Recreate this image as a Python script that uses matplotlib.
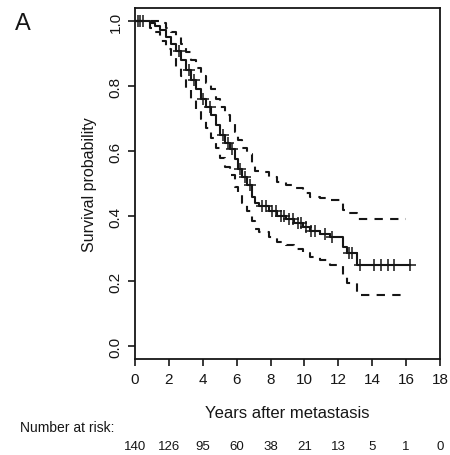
import numpy as np
import matplotlib.pyplot as plt
from matplotlib import transforms

plt.rcParams['font.family'] = ['Liberation Sans', 'DejaVu Sans']

# Kaplan-Meier estimate (step times, survival, 95% CI)
km_time = [0.0, 0.9, 1.2, 1.5, 1.8, 2.1, 2.4, 2.7, 3.0, 3.3, 3.6, 3.9, 4.2, 4.5,
           4.8, 5.0, 5.3, 5.6, 5.9, 6.1, 6.3, 6.6, 6.9, 7.1, 7.3, 7.9, 8.4, 8.9,
           9.4, 9.9, 10.3, 10.9, 11.5, 12.3, 12.5, 13.1]
km_surv = [1.0, 0.993, 0.986, 0.971, 0.95, 0.929, 0.907, 0.879, 0.85, 0.82, 0.79,
           0.76, 0.735, 0.71, 0.68, 0.65, 0.625, 0.605, 0.575, 0.545, 0.52, 0.495,
           0.46, 0.44, 0.43, 0.415, 0.40, 0.39, 0.38, 0.365, 0.355, 0.345, 0.335,
           0.305, 0.285, 0.249]
km_upper = [1.0, 1.0, 1.0, 0.995, 0.98, 0.965, 0.95, 0.93, 0.905, 0.88, 0.855,
            0.83, 0.81, 0.79, 0.76, 0.735, 0.71, 0.69, 0.66, 0.635, 0.61, 0.59,
            0.56, 0.54, 0.535, 0.52, 0.505, 0.495, 0.485, 0.47, 0.46, 0.455, 0.45,
            0.42, 0.41, 0.39]
km_lower = [1.0, 0.98, 0.965, 0.94, 0.915, 0.89, 0.86, 0.83, 0.795, 0.76, 0.73,
            0.70, 0.67, 0.64, 0.61, 0.58, 0.55, 0.525, 0.49, 0.465, 0.44, 0.415,
            0.385, 0.36, 0.35, 0.335, 0.32, 0.31, 0.30, 0.285, 0.275, 0.265, 0.25,
            0.215, 0.195, 0.157]
last_time = 16.2
ci_end = 16.0

censor_times = [0.15, 0.3, 0.45, 2.6, 3.2, 3.5, 4.0, 4.4, 5.2, 5.5, 5.7, 6.2, 6.5,
                6.8, 7.5, 7.7, 8.1, 8.3, 8.6, 8.8, 9.1, 9.3, 9.6, 9.8, 10.1, 10.4,
                10.6, 11.2, 11.6, 12.6, 12.8, 13.3, 14.1, 14.5, 14.9, 15.3, 16.2]

risk_times = [0, 2, 4, 6, 8, 10, 12, 14, 16, 18]
at_risk = [140, 126, 95, 60, 38, 21, 13, 5, 1, 0]

ink = '#161616'

fig = plt.figure(figsize=(4.5, 4.56), dpi=100)
ax = fig.add_axes([0.3, 0.2105, 0.678, 0.7697])

t = np.array(km_time + [last_time])
s = np.array(km_surv + [km_surv[-1]])
ax.plot(t, s, drawstyle='steps-post', color=ink, lw=1.5)

tc = np.array(km_time + [ci_end])
for band in (km_upper, km_lower):
    b = np.array(band + [band[-1]])
    ax.plot(tc, b, drawstyle='steps-post', color=ink, lw=1.5, dashes=(4, 3.5))

# censoring marks sit on the step curve
idx = np.searchsorted(km_time, censor_times, side='right') - 1
ax.plot(censor_times, np.array(km_surv)[idx], '+', color=ink, ms=8, mew=1.1)

ax.set_xlim(0, 18)
ax.set_ylim(-0.04, 1.04)
ax.set_xticks(risk_times)
ax.set_yticks([0.0, 0.2, 0.4, 0.6, 0.8, 1.0])
ax.set_yticklabels(['0.0', '0.2', '0.4', '0.6', '0.8', '1.0'])
ax.tick_params(labelsize=11, length=5, width=1.2, colors=ink, pad=4)
plt.setp(ax.get_yticklabels(), rotation=90, va='center')
for sp in ax.spines.values():
    sp.set_linewidth(1.3)
    sp.set_color(ink)

ax.set_xlabel('Years after metastasis', fontsize=12, color=ink, labelpad=14)
ax.set_ylabel('Survival probability', fontsize=11.5, color=ink)
ax.yaxis.set_label_coords(-0.125, 0.5)

fig.text(0.034, 0.972, 'A', fontsize=17, va='top', color=ink)
fig.text(0.045, 0.0614, 'Number at risk:', fontsize=10, va='center', color=ink)

risk_tr = transforms.blended_transform_factory(ax.transData, fig.transFigure)
for x, n in zip(risk_times, at_risk):
    ax.text(x, 0.0197, str(n), transform=risk_tr, ha='center', va='center',
            fontsize=9.5, color=ink, clip_on=False)

fig.savefig('out.png', dpi=100)
